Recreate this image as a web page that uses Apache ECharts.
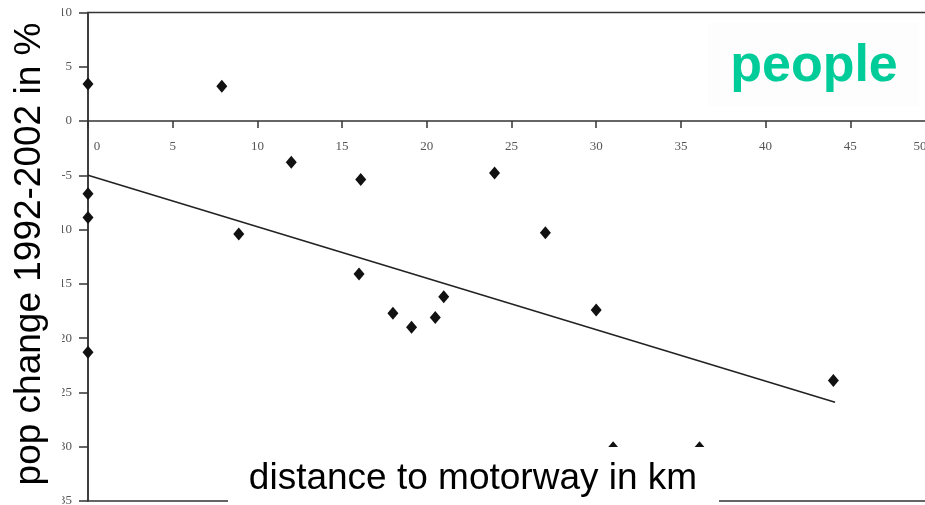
<!DOCTYPE html>
<html>
<head>
<meta charset="utf-8">
<script src="https://cdn.jsdelivr.net/npm/echarts@6/dist/echarts.min.js"></script>
<style>
html,body{margin:0;padding:0;background:#fff;}
#chart{width:925px;height:505px;}
</style>
</head>
<body>
<div id="chart"></div>
<script>
// distance to motorway (km) and population change 1992-2002 (%)
const distKm    = [0, 7.9, 12.0, 16.1, 24.0, 0, 0, 8.9, 27.0, 16.0, 21.0, 18.0, 20.5, 19.1, 30.0, 0, 44.0, 31.0, 36.1];
const popChange = [3.4, 3.2, -3.8, -5.4, -4.8, -6.7, -8.9, -10.4, -10.3, -14.1, -16.2, -17.7, -18.1, -19.0, -17.4, -21.3, -23.9, -30.1, -30.1];
// linear trend line end points
const trendX = [0, 44.1];
const trendY = [-5.0, -25.9];
// axis ticks
const xTicks = [0, 5, 10, 15, 20, 25, 30, 35, 40, 45, 50];
const yTicks = [10, 5, 0, -5, -10, -15, -20, -25, -30, -35];
// texts
const yTitle = 'pop change 1992-2002 in %';
const xTitle = 'distance to motorway in km';
const tag = 'people';

const points = distKm.map((d, i) => [d, popChange[i]]);
const trend = trendX.map((d, i) => [d, trendY[i]]);

const W = 925, H = 505;
const gridTop = 12.4, gridBottom = 4;
const yMin = yTicks[yTicks.length - 1], yMax = yTicks[0];
// move the x axis (line, ticks, labels) up to the value 0 of the y axis
const plotH = H - gridTop - gridBottom;
const zeroOffset = -plotH * (0 - yMin) / (yMax - yMin);

const chart = echarts.init(document.getElementById('chart'), null, {renderer: 'canvas'});
const axisColor = '#333';
const labelFont = {fontFamily: '"Liberation Serif", "DejaVu Serif", serif', fontSize: 13, color: '#555'};

chart.setOption({
  animation: false,
  backgroundColor: '#fff',
  grid: {left: 88, top: gridTop, right: -10, bottom: gridBottom, containLabel: false, outerBoundsMode: 'none',
    show: true, borderColor: axisColor, borderWidth: 1.5, backgroundColor: 'transparent'},
  xAxis: {
    type: 'value', min: xTicks[0], max: xTicks[xTicks.length - 1], interval: 5,
    position: 'bottom', offset: zeroOffset,
    axisLine: {show: true, onZero: false, lineStyle: {color: axisColor, width: 1.5}},
    axisTick: {show: true, length: 7, lineStyle: {color: axisColor, width: 1.5}},
    splitLine: {show: false},
    axisLabel: Object.assign({}, labelFont, {
      margin: 19, showMinLabel: true, showMaxLabel: true, hideOverlap: false,
      formatter: v => v === xTicks[0] ? '{first|' + v + '}' : (v === xTicks[xTicks.length - 1] ? '{last|' + v + '}' : String(v)),
      rich: {
        first: Object.assign({}, labelFont, {padding: [0, 0, 0, 18]}),
        last: Object.assign({}, labelFont, {padding: [0, 30, 0, 0]})
      }
    })
  },
  yAxis: {
    type: 'value', min: yMin, max: yMax, interval: 5,
    axisLine: {show: true, onZero: false, lineStyle: {color: axisColor, width: 1.5}},
    axisTick: {show: true, length: 9, lineStyle: {color: axisColor, width: 1.5}},
    splitLine: {show: false},
    axisLabel: Object.assign({}, labelFont, {margin: 16, showMinLabel: true, showMaxLabel: true})
  },
  series: [
    {
      type: 'line', data: trend, symbol: 'none', silent: true, z: 2,
      lineStyle: {color: '#222', width: 1.6}
    },
    {
      type: 'scatter', data: points, symbol: 'diamond', symbolSize: [11, 13], z: 3,
      itemStyle: {color: '#111', opacity: 1}
    }
  ],
  graphic: [
    {type: 'rect', z: 100, shape: {x: 0, y: 0, width: 62, height: H}, style: {fill: '#fff'}},
    {type: 'text', z: 101, x: 30, y: 254, rotation: Math.PI / 2,
      style: {text: yTitle, font: '37px "Liberation Sans", Arial, sans-serif', fill: '#000', align: 'center', verticalAlign: 'middle'}},
    {type: 'rect', z: 100, shape: {x: 228, y: 447, width: 491, height: 58}, style: {fill: '#fff'}},
    {type: 'text', z: 101, x: 473, y: 479,
      style: {text: xTitle, font: '37px "Liberation Sans", Arial, sans-serif', fill: '#000', align: 'center', verticalAlign: 'middle'}},
    {type: 'rect', z: 100, shape: {x: 708, y: 23, width: 211, height: 83}, style: {fill: '#fdfdfd'}},
    {type: 'text', z: 101, x: 814, y: 67,
      style: {text: tag, font: 'bold 52px "Liberation Sans", Arial, sans-serif', fill: '#00CC99', align: 'center', verticalAlign: 'middle'}}
  ]
});
</script>
</body>
</html>
